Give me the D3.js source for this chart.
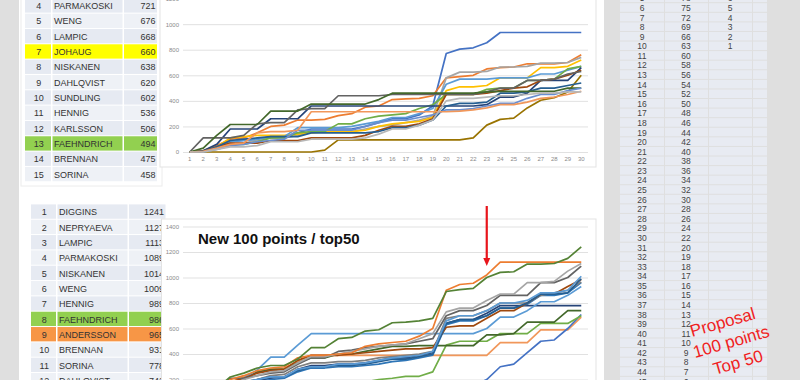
<!DOCTYPE html>
<html>
<head>
<meta charset="utf-8">
<script src="https://cdn.jsdelivr.net/npm/d3@7"></script>
<style>
body { margin: 0; background: #fff; }
svg { display: block; font-family: "Liberation Sans", Arial, sans-serif; }
</style>
</head>
<body>
<div id="chart-area"></div>
<script>
// race numbers on the x axis
var days = [1,2,3,4,5,6,7,8,9,10,11,12,13,14,15,16,17,18,19,20,21,22,23,24,25,26,27,28,29,30];
var yTicksOld = [0,200,400,600,800,1000,1200];
var yTicksNew = [0,200,400,600,800,1000,1200,1400];

// standings table, current system (top part cut off)
var oldRanks = [4,5,6,7,8,9,10,11,12,13,14,15];
var oldNames = ["PARMAKOSKI","WENG","LAMPIC","JOHAUG","NISKANEN","DAHLQVIST","SUNDLING","HENNIG","KARLSSON","FAEHNDRICH","BRENNAN","SORINA"];
var oldPoints = [721,676,668,660,638,620,602,536,506,494,475,458];

// standings table, new system
var newRanks = [1,2,3,4,5,6,7,8,9,10,11,12];
var newNames = ["DIGGINS","NEPRYAEVA","LAMPIC","PARMAKOSKI","NISKANEN","WENG","HENNIG","FAEHNDRICH","ANDERSSON","BRENNAN","SORINA","DAHLQVIST"];
var newPoints = [1241,1127,1113,1089,1014,1009,989,986,965,931,778,742];

// proposal scale (right table)
var scaleRanks = [5,6,7,8,9,10,11,12,13,14,15,16,17,18,19,20,21,22,23,24,25,26,27,28,29,30,31,32,33,34,35,36,37,38,39,40,41,42,43,44,45];
var scalePoints = [78,75,72,69,66,63,60,58,56,54,52,50,48,46,44,42,40,38,36,34,32,30,28,26,24,22,20,19,18,17,16,15,14,13,12,11,10,9,8,7,6];
var sprintPoints = [6,5,4,3,2,1];

// cumulative points, current system
var old1 = [0,10,40,80,90,100,110,120,150,180,180,180,180,200,230,260,260,290,360,770,805,815,855,935,935,935,935,935,935,935];
var old2 = [0,10,50,100,110,150,200,210,250,250,255,285,300,350,360,410,415,420,440,580,590,600,650,660,665,690,690,690,700,760];
var old3 = [0,5,30,60,70,90,110,110,130,160,160,160,160,180,200,210,230,250,280,580,625,625,630,665,665,670,695,695,700,740];
var old4 = [0,10,40,110,120,130,130,130,140,150,160,160,160,170,200,220,230,240,270,480,510,510,520,580,580,580,660,660,670,720];
var old5 = [0,5,30,80,90,100,120,120,190,190,190,190,200,220,240,270,270,300,340,530,570,570,570,580,580,580,610,610,640,670];
var old6 = [0,0,30,60,60,80,110,110,150,160,160,220,220,260,280,290,300,340,370,450,450,450,490,500,500,560,560,570,650,670];
var old7 = [0,10,60,180,180,180,260,260,260,360,360,360,360,360,360,360,360,360,360,360,360,360,370,430,430,460,560,560,560,660];
var old8 = [0,5,40,70,70,70,90,90,90,110,110,110,110,130,170,200,200,220,260,450,450,450,460,480,500,510,560,570,600,640];
var old9 = [0,110,110,110,130,220,230,230,330,340,340,440,440,440,440,450,450,450,450,450,450,450,470,500,500,560,560,570,610,630];
var old10 = [0,0,0,0,0,0,0,0,0,0,15,95,95,95,95,95,95,95,95,95,95,110,210,255,265,345,405,425,470,600];
var old11 = [0,5,40,90,100,110,120,120,120,150,150,150,150,150,160,190,190,210,250,360,380,380,390,460,460,470,500,500,520,540];
var old12 = [0,30,130,215,215,215,320,320,320,375,375,375,375,375,410,460,460,460,460,460,460,460,470,475,475,475,475,475,500,500];
var old13 = [0,0,20,50,60,80,90,100,170,170,170,170,170,200,230,250,250,270,290,330,330,340,360,380,380,420,450,450,480,500];
var old14 = [0,5,30,60,70,150,160,160,170,315,315,315,315,315,315,315,315,315,315,315,320,330,345,370,370,390,420,430,450,475];
var old15 = [0,0,20,40,40,50,80,80,80,100,100,100,100,110,140,180,180,210,250,400,420,420,430,440,440,450,460,460,470,470];
var oldSeries = [old1,old2,old3,old4,old5,old6,old7,old8,old9,old10,old11,old12,old13,old14,old15];
var oldColors = ["#4472C4","#ED7D31","#A5A5A5","#FFC000","#5B9BD5","#70AD47","#264478","#9E480E","#636363","#997300","#255E91","#43682B","#698ED0","#F1975A","#B7B7B7"];

// cumulative points, new 100 points / top50 system
var new1 = [0,50,130,220,250,290,310,310,360,450,450,520,530,580,590,645,650,660,680,890,905,915,1000,1040,1045,1105,1105,1110,1150,1240];
var new2 = [0,40,110,200,230,270,290,300,370,390,390,400,410,460,480,490,500,540,600,900,945,955,1020,1120,1120,1120,1120,1120,1120,1120];
var new3 = [0,30,90,160,200,230,260,270,330,380,380,400,420,440,460,470,480,520,560,730,760,760,820,870,870,960,960,970,1050,1110];
var new4 = [0,40,120,210,210,230,250,260,320,370,370,420,430,450,460,470,480,500,520,700,740,740,780,860,860,860,960,960,1000,1090];
var new5 = [0,20,80,150,180,200,220,220,280,300,300,320,320,330,350,370,380,390,420,660,700,700,740,800,800,820,880,880,900,1010];
var new6 = [0,20,70,140,170,200,220,220,270,300,300,310,310,320,340,360,360,380,400,640,670,670,700,760,760,800,870,870,880,990];
var new7 = [0,30,100,180,210,250,270,280,350,390,390,390,400,410,420,430,440,440,450,610,620,620,680,740,740,800,870,870,930,985];
var new8 = [0,20,80,150,180,200,230,240,300,330,330,340,340,350,370,380,390,400,420,680,700,700,740,800,800,800,860,880,900,965];
var new9 = [0,20,80,150,210,275,375,375,470,560,560,560,560,560,560,560,560,560,560,560,560,560,600,690,690,740,810,810,860,930];
var new10 = [0,20,70,140,170,190,210,220,280,310,310,320,320,330,350,370,370,390,410,640,670,670,720,780,780,780,780,780,780,780];
var new11 = [0,30,100,170,200,260,280,280,330,370,370,400,400,420,440,460,460,465,465,465,465,465,550,550,560,650,650,650,740,740];
var new12 = [0,10,40,80,100,110,120,130,150,160,170,170,170,180,200,210,225,225,260,470,500,500,500,560,560,560,640,640,640,700];
var new13 = [0,10,30,50,60,70,80,80,90,100,100,100,100,100,100,110,110,120,120,120,140,150,200,300,320,410,500,510,600,710];
var new14 = [0,30,100,180,220,260,280,290,340,390,390,390,390,390,390,390,390,390,390,390,390,390,390,490,490,490,590,590,590,690];
var new15 = [0,20,60,130,160,180,200,210,260,290,290,300,300,310,320,340,350,370,390,630,660,660,700,760,760,790,860,860,880,960];
var newSeries = [new14,new13,new12,new11,new10,new9,new15,new8,new7,new6,new5,new4,new3,new2,new1];
var newColors = ["#F1975A","#4472C4","#70AD47","#43682B","#264478","#5B9BD5","#2E75B6","#7F7F7F","#9E480E","#255E91","#5B9BD5","#636363","#A5A5A5","#ED7D31","#548235"];

var svg = d3.select("#chart-area").append("svg").attr("width", 800).attr("height", 380);

// background: gray window, white sheet in the middle
svg.append("rect").attr("width", 800).attr("height", 380).attr("fill", "#dfdfdf");
svg.append("rect").attr("x", 19).attr("width", 585).attr("height", 380).attr("fill", "#ffffff");

// card of table 1
svg.append("rect").attr("x", 21).attr("y", -5).attr("width", 141).attr("height", 191)
    .attr("fill", "#fff").attr("stroke", "#ececec");

function drawTable(ranks, names, points, cols, y0, rowH, marks) {
    var g = svg.append("g");
    ranks.forEach(function(r, i) {
        var top = y0 + i * rowH;
        var fill = marks[r] || (i % 2 ? "#eef1f6" : "#e6eaf2");
        for (var c = 0; c < 3; c++) {
            g.append("rect").attr("x", cols[c]).attr("y", top)
                .attr("width", cols[c + 1] - cols[c] - 1.5).attr("height", rowH - 1)
                .attr("fill", fill);
        }
        var ty = top + rowH / 2 + 3.2;
        g.append("text").attr("x", (cols[0] + cols[1]) / 2).attr("y", ty)
            .attr("text-anchor", "middle").attr("font-size", "9px").attr("fill", "#333").text(r);
        g.append("text").attr("x", cols[1] + 1.5).attr("y", ty)
            .attr("font-size", "9px").attr("fill", "#333").text(names[i]);
        g.append("text").attr("x", cols[3] - 3).attr("y", ty)
            .attr("text-anchor", "end").attr("font-size", "9px").attr("fill", "#333").text(points[i]);
    });
}

drawTable(oldRanks, oldNames, oldPoints, [25, 52.5, 124, 158.5], -1.7, 15.33, {7: "#ffff00", 13: "#92d050"});
drawTable(newRanks, newNames, newPoints, [31, 57.5, 129, 167], 204.4, 15.33, {8: "#92d050", 9: "#f79646"});

// proposal table on the right
var rt = svg.append("g");
var rowR = 9.58;
scaleRanks.forEach(function(r, i) {
    var top = 8 + (r - 6) * rowR - rowR / 2;
    [[620, 664], [665, 708], [709, 752], [753, 767]].forEach(function(c) {
        rt.append("rect").attr("x", c[0]).attr("y", top).attr("width", c[1] - c[0])
            .attr("height", rowR - 1).attr("fill", "#e8ebf2");
    });
    var ty = top + rowR / 2 + 3;
    rt.append("text").attr("x", 642).attr("y", ty).attr("text-anchor", "middle")
        .attr("font-size", "8.5px").attr("fill", "#444").text(r);
    rt.append("text").attr("x", 686).attr("y", ty).attr("text-anchor", "middle")
        .attr("font-size", "8.5px").attr("fill", "#444").text(scalePoints[i]);
    if (i < sprintPoints.length) {
        rt.append("text").attr("x", 730).attr("y", ty).attr("text-anchor", "middle")
            .attr("font-size", "8.5px").attr("fill", "#444").text(sprintPoints[i]);
    }
});

// chart panels
svg.append("rect").attr("x", 160).attr("y", -2).attr("width", 436).attr("height", 169)
    .attr("fill", "#fff").attr("stroke", "#e3e3e3");
svg.append("rect").attr("x", 161.5).attr("y", 219).attr("width", 434.5).attr("height", 170)
    .attr("fill", "#fff").attr("stroke", "#e3e3e3");

var x = d3.scaleBand().domain(days).range([183, 588]);
var yOld = d3.scaleLinear().domain([0, 1200]).range([152, -1.4]);
var yNew = d3.scaleLinear().domain([0, 1400]).range([405, 226.5]);

function drawChart(y, ticks, series, colors, showX) {
    var g = svg.append("g");
    var yAxis = g.append("g").attr("transform", "translate(183,0)")
        .call(d3.axisLeft(y).tickValues(ticks).tickFormat(d3.format("d")).tickSize(-405).tickPadding(4));
    yAxis.select(".domain").remove();
    yAxis.selectAll("line").attr("stroke", "#d9d9d9").attr("stroke-width", 0.8);
    yAxis.selectAll("text").attr("font-size", "6px").attr("fill", "#8a8a8a")
        .attr("font-family", "Liberation Sans, Arial, sans-serif");

    if (showX) {
        var xAxis = g.append("g").attr("transform", "translate(0," + y(0) + ")")
            .call(d3.axisBottom(x).tickSize(0).tickPadding(5));
        xAxis.select(".domain").remove();
        xAxis.selectAll("text").attr("font-size", "6px").attr("fill", "#8a8a8a")
            .attr("font-family", "Liberation Sans, Arial, sans-serif");
    }

    var line = d3.line()
        .x(function(d, i) { return x(days[i]) + x.bandwidth() / 2; })
        .y(function(d) { return y(d); });

    g.selectAll("path.series").data(series).enter().append("path")
        .attr("class", "series")
        .attr("d", line)
        .attr("fill", "none")
        .attr("stroke", function(d, i) { return colors[i]; })
        .attr("stroke-width", 1.7)
        .attr("stroke-linejoin", "round");
}

drawChart(yOld, yTicksOld, oldSeries, oldColors, true);
drawChart(yNew, yTicksNew, newSeries, newColors, false);

// title inside the second chart
svg.append("text").attr("x", 198).attr("y", 243.5)
    .attr("font-size", "15px").attr("font-weight", "bold").attr("fill", "#111")
    .text("New 100 points / top50");

// red arrow pointing at race 23
var ax = x(23) + x.bandwidth() / 2;
svg.append("line").attr("x1", ax).attr("x2", ax).attr("y1", 206).attr("y2", 259)
    .attr("stroke", "#e8141b").attr("stroke-width", 2.2);
svg.append("path")
    .attr("d", "M" + (ax - 3.5) + ",258 L" + (ax + 3.5) + ",258 L" + ax + ",266 Z")
    .attr("fill", "#e8141b");

// rotated red note
var note = svg.append("g").attr("transform", "translate(692,337) rotate(-16)");
[["Proposal", 0, 0], ["100 points", -2.9, 21], ["Top 50", 11.6, 42.8]].forEach(function(l) {
    note.append("text").attr("x", l[1]).attr("y", l[2])
        .attr("font-size", "17px").attr("fill", "#f01e23").text(l[0]);
});
</script>
</body>
</html>
